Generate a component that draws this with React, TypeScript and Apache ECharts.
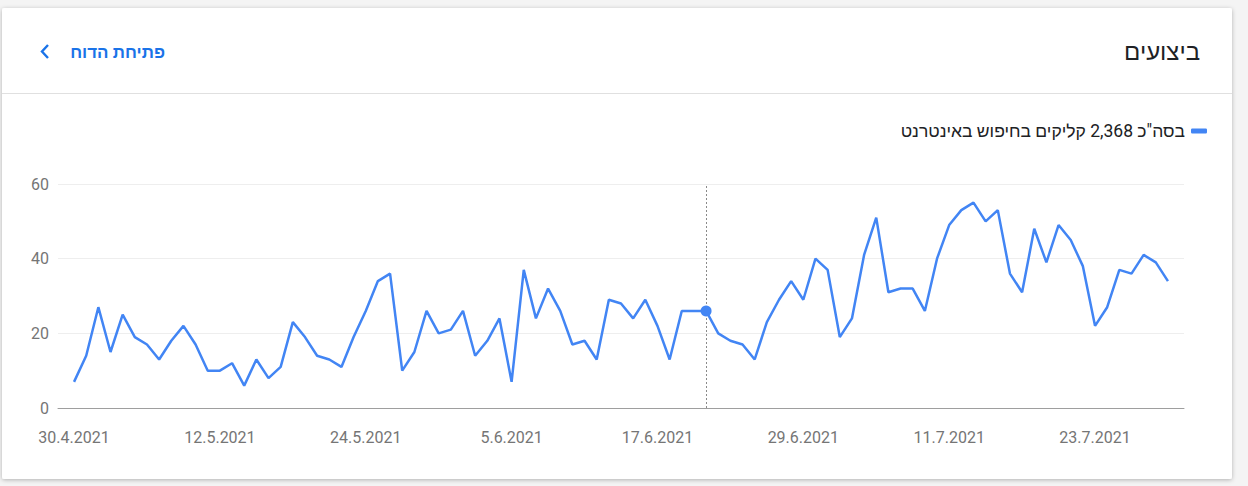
import React, { useEffect, useRef } from "react";
import * as echarts from "echarts";

const startDate = { day: 30, month: 4, year: 2021 };
const clicks = [
  7, 14, 27, 15, 25, 19, 17, 13, 18, 22,
  17, 10, 10, 12, 6, 13, 8, 11, 23, 19,
  14, 13, 11, 19, 26, 34, 36, 10, 15, 26,
  20, 21, 26, 14, 18, 24, 7, 37, 24, 32,
  26, 17, 18, 13, 29, 28, 24, 29, 22, 13,
  26, 26, 26, 20, 18, 17, 13, 23, 29, 34,
  29, 40, 37, 19, 24, 41, 51, 31, 32, 32,
  26, 40, 49, 53, 55, 50, 53, 36, 31, 48,
  39, 49, 45, 38, 22, 27, 37, 36, 41, 39, 34,
];
const tickIndexes = [0, 12, 24, 36, 48, 60, 72, 84];
const yTicks = { min: 0, max: 60, interval: 20 };
const hoverIndex = 52;
const titleText = "ביצועים";
const linkText = "פתיחת הדוח";
const seriesName = 'בסה"כ 2,368 קליקים בחיפוש באינטרנט';

const dates: string[] = clicks.map((_, i) => {
  const d = new Date(startDate.year, startDate.month - 1, startDate.day + i);
  return `${d.getDate()}.${d.getMonth() + 1}.${d.getFullYear()}`;
});

const BLUE = "#4285f4";
const LINK = "#1a73e8";
const HEB = "Roboto, Arial, 'Liberation Sans', sans-serif";

export default function App() {
  const ref = useRef<HTMLDivElement>(null);
  useEffect(() => {
    if (!ref.current) return;
    const chart = echarts.init(ref.current, undefined, { renderer: "svg" });
    chart.setOption({
      animation: false,
      backgroundColor: "#f4f4f4",
      graphic: [
        {
          type: "rect",
          z: -10,
          shape: { x: 2, y: 8, width: 1230, height: 471, r: 2 },
          style: {
            fill: "#ffffff",
            shadowBlur: 4,
            shadowOffsetY: 1,
            shadowColor: "rgba(0,0,0,0.28)",
          },
        },
        {
          type: "line",
          z: -5,
          shape: { x1: 2, y1: 93.5, x2: 1232, y2: 93.5 },
          style: { stroke: "#e0e0e0", lineWidth: 1 },
        },
        {
          type: "text",
          x: 1200,
          y: 52,
          style: {
            text: titleText,
            fontSize: 24,
            fontFamily: HEB,
            fill: "#202124",
            align: "right",
            verticalAlign: "middle",
          },
        },
        {
          type: "text",
          x: 165,
          y: 52,
          style: {
            text: linkText,
            fontSize: 17,
            fontWeight: "bold",
            fontFamily: HEB,
            fill: LINK,
            align: "right",
            verticalAlign: "middle",
          },
        },
        {
          type: "polyline",
          shape: { points: [[48, 45], [42, 51.5], [48, 58]] },
          style: { stroke: LINK, lineWidth: 2.4, fill: null },
        },
      ],
      legend: {
        right: 36,
        top: 117,
        align: "right",
        icon: "roundRect",
        itemWidth: 16,
        itemHeight: 5,
        data: [seriesName],
        textStyle: {
          fontSize: 17.5,
          fontFamily: HEB,
          color: "#202124",
          padding: [0, 1, 0, 0],
        },
      },
      grid: { left: 58, right: 64, top: 184, bottom: 78 },
      xAxis: {
        type: "value",
        min: -1.32,
        max: 91.32,
        axisLine: { show: true, lineStyle: { color: "#9e9e9e", width: 1 } },
        axisTick: { show: false },
        splitLine: { show: false },
        axisLabel: {
          customValues: tickIndexes,
          formatter: (v: number) => dates[Math.round(v)] ?? "",
          color: "#757575",
          fontSize: 16,
          fontFamily: "Roboto, sans-serif",
          margin: 21,
        },
      },
      yAxis: {
        type: "value",
        min: yTicks.min,
        max: yTicks.max,
        interval: yTicks.interval,
        axisLine: { show: false },
        axisTick: { show: false },
        splitLine: { lineStyle: { color: "#eeeeee", width: 1 } },
        axisLabel: {
          color: "#757575",
          fontSize: 16,
          fontFamily: "Roboto, sans-serif",
          margin: 9,
        },
      },
      series: [
        {
          name: seriesName,
          type: "line",
          data: clicks.map((v, i) => [i, v]),
          symbol: "none",
          itemStyle: { color: BLUE },
          lineStyle: { color: BLUE, width: 2.5 },
          markLine: {
            silent: true,
            symbol: "none",
            label: { show: false },
            lineStyle: { color: "#8a8a8a", type: [2, 2], width: 1 },
            data: [{ xAxis: hoverIndex }],
          },
          markPoint: {
            silent: true,
            symbol: "circle",
            symbolSize: 11,
            label: { show: false },
            itemStyle: { color: BLUE },
            data: [{ coord: [hoverIndex, clicks[hoverIndex]] }],
          },
        },
      ],
    });
    return () => chart.dispose();
  }, []);
  return (
    <div
      ref={ref}
      style={{ position: "fixed", left: 0, top: 0, width: 1248, height: 486 }}
    />
  );
}
